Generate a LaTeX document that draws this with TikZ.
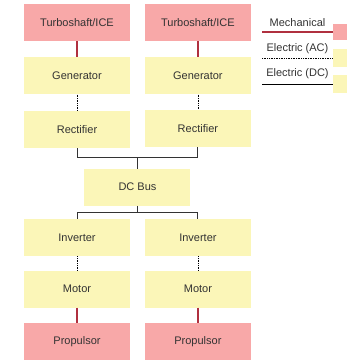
\documentclass[tikz,border=0pt]{standalone}
\usepackage{fontspec}
\setmainfont{Liberation Sans}
\usetikzlibrary{positioning, calc}

\definecolor{enginepink}{HTML}{F8A8A8}
\definecolor{unityellow}{HTML}{FBF6B8}
\definecolor{shaftred}{HTML}{B0303F}
\definecolor{textgray}{HTML}{333333}

\begin{document}
\begin{tikzpicture}[
    x=1pt, y=1pt,
    font=\fontsize{11}{13}\selectfont, text=textgray,
    box/.style={minimum width=106pt, minimum height=37pt, inner sep=0pt},
    engine/.style={box, fill=enginepink},
    unit/.style={box, fill=unityellow},
    mech/.style={draw=shaftred, line width=1.3pt},
    ac/.style={draw=black, densely dotted, line width=0.7pt},
    dc/.style={draw=textgray, line width=0.9pt}
]
    \useasboundingbox (0,0) rectangle (347,-361);

    % Two generator branches
    \node[engine] (ice1) at (77,-22.5) {Turboshaft/ICE};
    \node[engine, right=14.5pt of ice1] (ice2) {Turboshaft/ICE};
    \node[unit, below=16pt of ice1] (gen1) {Generator};
    \node[unit, below=16pt of ice2] (gen2) {Generator};
    \node[unit, below=16pt of gen1] (rect1) {Rectifier};
    \node[unit, below=15pt of gen2] (rect2) {Rectifier};

    % Common DC bus
    \coordinate (join) at ($(rect1.south)!0.5!(rect2.south)+(0,-10pt)$);
    \node[unit, below=11pt of join] (bus) {DC Bus};
    \coordinate[below=7pt of bus] (fork);

    % Two propulsion branches
    \node[unit, anchor=north] (inv1) at ([yshift=-6pt]fork -| rect1) {Inverter};
    \node[unit, anchor=north] (inv2) at ([yshift=-6pt]fork -| rect2) {Inverter};
    \node[unit, below=14pt of inv1] (mot1) {Motor};
    \node[unit, below=14pt of inv2] (mot2) {Motor};
    \node[engine, below=15pt of mot1] (prop1) {Propulsor};
    \node[engine, below=15pt of mot2] (prop2) {Propulsor};

    % Links
    \draw[mech] (ice1) -- (gen1);
    \draw[mech] (ice2) -- (gen2);
    \draw[ac] (gen1) -- (rect1);
    \draw[ac] (gen2) -- (rect2);
    \draw[dc] (rect1) |- (join) -| (rect2);
    \draw[dc] (join) -- (bus);
    \draw[dc] (bus) -- (fork);
    \draw[dc] (inv1) |- (fork) -| (inv2);
    \draw[ac] (inv1) -- (mot1);
    \draw[ac] (inv2) -- (mot2);
    \draw[mech] (mot1) -- (prop1);
    \draw[mech] (mot2) -- (prop2);

    % Legend
    \node[fill=enginepink, minimum width=14pt, minimum height=16pt, inner sep=0pt, anchor=west] (keymech) at (333,-32) {};
    \node[fill=unityellow, minimum width=14pt, minimum height=18pt, inner sep=0pt, anchor=west] (keyac) at (333,-58) {};
    \node[fill=unityellow, minimum width=14pt, minimum height=18pt, inner sep=0pt, anchor=west] (keydc) at (333,-84) {};
    \coordinate[left=71pt of keymech.west] (mechend);
    \coordinate[left=71pt of keyac.west] (acend);
    \coordinate[left=71pt of keydc.west] (dcend);
    \draw[mech] (mechend) -- (keymech) node[midway, above=1pt] {Mechanical};
    \draw[ac] (acend) -- (keyac) node[midway, above=1pt] {Electric (AC)};
    \draw[dc, draw=black] (dcend) -- (keydc) node[midway, above=1pt] {Electric (DC)};

\end{tikzpicture}
\end{document}
